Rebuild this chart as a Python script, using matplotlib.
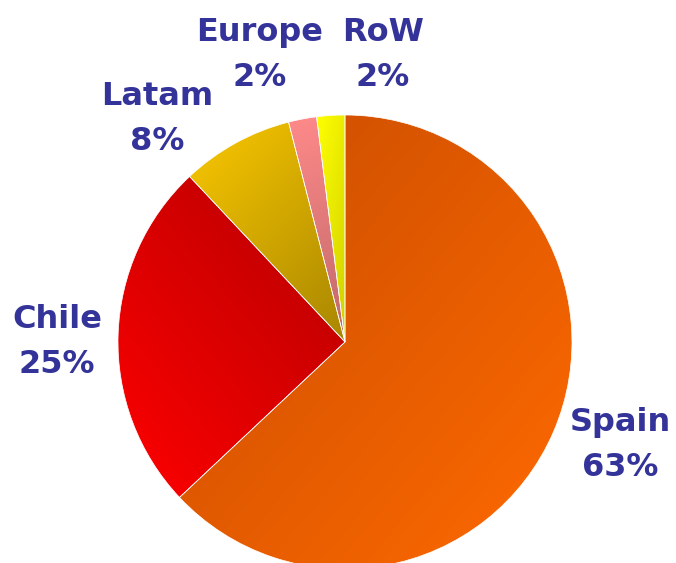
import numpy as np
import matplotlib.pyplot as plt
from matplotlib.colors import to_rgb

regions = ["Spain", "Chile", "Latam", "Europe", "RoW"]
shares = [63, 25, 8, 2, 2]

# two-stop gradients per slice: (start colour, end colour, direction in degrees)
gradients = [
    ("#C84C00", "#FF6A00", -40),
    ("#FF0000", "#B40000", 40),
    ("#FAC800", "#A88600", -45),
    ("#FF8A8A", "#C06868", -70),
    ("#FFFF00", "#D0D000", -10),
]

label_pos = {
    "Spain": (620, 118),
    "Chile": (57, 221),
    "Latam": (157, 444),
    "Europe": (260, 508),
    "RoW": (383, 508),
}

W, H = 676, 563
fig = plt.figure(figsize=(W / 100, H / 100), dpi=100)
ax = fig.add_axes([0, 0, 1, 1])

cx, cy, r = 345, H - 342, 227
wedges, _ = ax.pie(shares, startangle=90, counterclock=False,
                   center=(cx, cy), radius=r,
                   wedgeprops=dict(edgecolor="white", linewidth=0.5))

for w, (c0, c1, ang) in zip(wedges, gradients):
    w.set_facecolor("none")
    w.set_zorder(3)
    bb = w.get_path().get_extents(w.get_patch_transform())
    x0, y0, x1, y1 = bb.x0, bb.y0, bb.x1, bb.y1
    xs = np.linspace(x0, x1, 200)
    ys = np.linspace(y1, y0, 200)
    X, Y = np.meshgrid(xs, ys)
    d = np.array([np.cos(np.radians(ang)), np.sin(np.radians(ang))])
    t = X * d[0] + Y * d[1]
    t = (t - t.min()) / (t.max() - t.min())
    a, b = np.array(to_rgb(c0)), np.array(to_rgb(c1))
    img = a + (b - a) * t[..., None]
    im = ax.imshow(img, extent=(x0, x1, y0, y1), zorder=2, interpolation="bilinear")
    im.set_clip_path(w)

for name, val in zip(regions, shares):
    x, y = label_pos[name]
    ax.text(x, y, f"{name}\n{val}%", ha="center", va="center",
            fontsize=23, fontweight="bold", color="#333399",
            family="DejaVu Sans", linespacing=1.6)

ax.set_xlim(0, W)
ax.set_ylim(0, H)
ax.set_aspect("equal")
ax.axis("off")
fig.savefig("out.png", dpi=100)
